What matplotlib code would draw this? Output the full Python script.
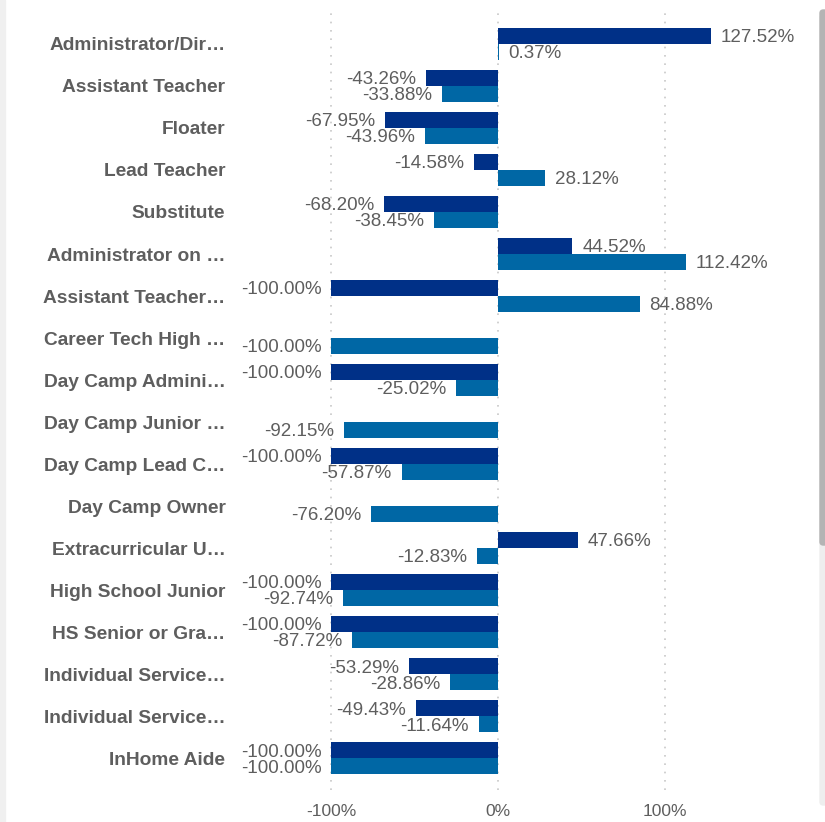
import matplotlib.pyplot as plt
from matplotlib.patches import FancyBboxPatch, Rectangle
import numpy as np

plt.rcParams['font.family'] = ['Liberation Sans', 'DejaVu Sans']

categories = ['Administrator/Dir…', 'Assistant Teacher', 'Floater', 'Lead Teacher',
              'Substitute', 'Administrator on …', 'Assistant Teacher…',
              'Career Tech High …', 'Day Camp Admini…', 'Day Camp Junior …',
              'Day Camp Lead C…', 'Day Camp Owner', 'Extracurricular U…',
              'High School Junior', 'HS Senior or Gra…', 'Individual Service…',
              'Individual Service…', 'InHome Aide']
series_a = [127.52, -43.26, -67.95, -14.58, -68.20, 44.52, -100.00,
            np.nan, -100.00, np.nan, -100.00, np.nan, 47.66,
            -100.00, -100.00, -53.29, -49.43, -100.00]
series_b = [0.37, -33.88, -43.96, 28.12, -38.45, 112.42, 84.88,
            -100.00, -25.02, -92.15, -57.87, -76.20, -12.83,
            -92.74, -87.72, -28.86, -11.64, -100.00]
ticks = [-100, 0, 100]

dark = '#003087'
light = '#0067a5'
txt = '#5e5e5e'

fig = plt.figure(figsize=(8.25, 8.22), dpi=100)
ax = fig.add_axes([0.285, 0.039, 0.703, 0.946])

y = np.arange(len(categories))
h = 0.38
ax.barh(y - h / 2, series_a, height=h, color=dark, zorder=2)
ax.barh(y + h / 2, series_b, height=h, color=light, zorder=2)

for vals, off in ((series_a, -h / 2), (series_b, h / 2)):
    for i, v in enumerate(vals):
        if np.isnan(v):
            continue
        ax.annotate(f'{v:.2f}%', (v, i + off), xytext=(7 if v >= 0 else -7, -1.2),
                    textcoords='offset points', va='center',
                    ha='left' if v >= 0 else 'right', fontsize=13.5, color=txt)

ax.set_xlim(-157.5, 189.8)
ax.set_ylim(len(categories) - 0.25, -0.75)
ax.set_xticks(ticks)
ax.set_xticklabels([f'{t}%' for t in ticks], fontsize=12.5, color=txt)
ax.set_yticks(y)
ax.set_yticklabels(categories, fontsize=13.8, fontweight='bold', color=txt)
ax.tick_params(length=0, pad=7)
ax.tick_params(axis='x', pad=10)
ax.grid(axis='x', linestyle=(0, (1, 4)), color='#c8c8c8', linewidth=1.2, zorder=0)
for s in ax.spines.values():
    s.set_visible(False)

# page chrome: left strip and scrollbar
fig.patches.append(Rectangle((0, 0), 5 / 825, 1, transform=fig.transFigure,
                             color='#f0f0f0', zorder=0))
fig.patches.append(FancyBboxPatch((820 / 825, 17 / 822), 8 / 825, 790 / 822,
                                  boxstyle='round,pad=0,rounding_size=0.004',
                                  transform=fig.transFigure, color='#eeeeee', zorder=0))
fig.patches.append(FancyBboxPatch((820 / 825, 277 / 822), 8 / 825, 535 / 822,
                                  boxstyle='round,pad=0,rounding_size=0.004',
                                  transform=fig.transFigure, color='#b4b4b4', zorder=0))

fig.savefig('out.png', dpi=100)
